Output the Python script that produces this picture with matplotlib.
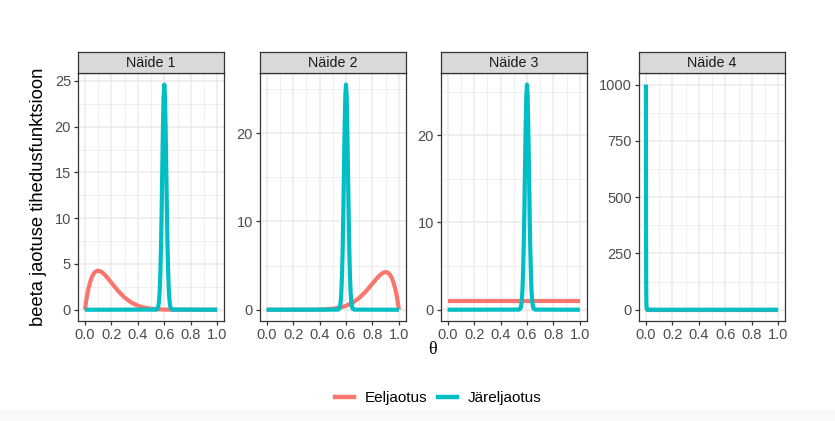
import matplotlib
matplotlib.use("Agg")
import matplotlib.pyplot as plt
from matplotlib.lines import Line2D
from matplotlib.patches import Rectangle

plt.rcParams['font.family'] = ['Liberation Sans', 'DejaVu Sans']

# ---------------- data ----------------
panel_titles = ["Näide 1", "Näide 2", "Näide 3", "Näide 4"]
series_names = ["Eeljaotus", "Järeljaotus"]
series_colors = ["#F8766D", "#00BFC4"]

prior1_x = [0, 0.01, 0.02, 0.03, 0.04, 0.05, 0.06, 0.07, 0.08, 0.09, 0.10, 0.11, 0.12, 0.13,
            0.15, 0.175, 0.2, 0.25, 0.3, 0.35, 0.4, 0.45, 0.5, 0.55, 0.6, 0.7, 1.0]
prior1_y = [0, 1.0, 1.84, 2.51, 3.05, 3.47, 3.78, 4.0, 4.16, 4.24, 4.26, 4.24, 4.18, 4.08,
            3.82, 3.41, 2.95, 2.07, 1.33, 0.80, 0.44, 0.23, 0.11, 0.05, 0.02, 0.002, 0]

prior2_x = [0, 0.3, 0.4, 0.45, 0.5, 0.55, 0.6, 0.65, 0.7, 0.75, 0.8, 0.825, 0.85, 0.87,
            0.88, 0.89, 0.90, 0.91, 0.92, 0.93, 0.94, 0.95, 0.96, 0.97, 0.98, 0.99, 1.0]
prior2_y = [0, 0.002, 0.02, 0.05, 0.11, 0.23, 0.44, 0.80, 1.33, 2.07, 2.95, 3.41, 3.82, 4.08,
            4.18, 4.24, 4.26, 4.24, 4.16, 4.0, 3.78, 3.47, 3.05, 2.51, 1.84, 1.0, 0]

prior3_x = [0, 1.0]
prior3_y = [1, 1]

prior4_x = [0, 1.0]
prior4_y = [1, 1]

post_x = [0.0, 0.54, 0.55, 0.555, 0.56, 0.565, 0.57, 0.575, 0.58, 0.585, 0.59, 0.595, 0.60,
          0.605, 0.61, 0.615, 0.62, 0.625, 0.63, 0.635, 0.64, 0.645, 0.65, 0.66, 1.0]
post1_y = [0, 0.015, 0.14, 0.36, 0.9, 1.9, 3.8, 6.7, 10.7, 15.4, 20.0, 23.3, 24.6,
           23.3, 20.0, 15.4, 10.7, 6.7, 3.8, 1.9, 0.9, 0.36, 0.14, 0.015, 0]
post2_y = [0, 0.015, 0.14, 0.38, 0.92, 2.0, 3.9, 6.9, 11.1, 16.0, 20.7, 24.2, 25.5,
           24.2, 20.7, 16.0, 11.1, 6.9, 3.9, 2.0, 0.92, 0.38, 0.14, 0.015, 0]
post3_y = [0, 0.016, 0.14, 0.38, 0.93, 2.0, 4.0, 7.0, 11.2, 16.2, 20.9, 24.5, 25.8,
           24.5, 20.9, 16.2, 11.2, 7.0, 4.0, 2.0, 0.93, 0.38, 0.14, 0.016, 0]

post4_x = [0, 0.001, 0.002, 0.003, 0.005, 0.01, 1.0]
post4_y = [1000, 368, 135, 50, 6.7, 0.04, 0]

x_ticks = [0.0, 0.2, 0.4, 0.6, 0.8, 1.0]
x_tick_labels = ["0.0", "0.2", "0.4", "0.6", "0.8", "1.0"]
x_minor = [0.1, 0.3, 0.5, 0.7, 0.9]

y_ticks = [[0, 5, 10, 15, 20, 25], [0, 10, 20], [0, 10, 20], [0, 250, 500, 750, 1000]]
y_minor = [[2.5, 7.5, 12.5, 17.5, 22.5], [5, 15, 25], [5, 15, 25], [125, 375, 625, 875]]

priors = [(prior1_x, prior1_y), (prior2_x, prior2_y), (prior3_x, prior3_y), (prior4_x, prior4_y)]
posts = [(post_x, post1_y), (post_x, post2_y), (post_x, post3_y), (post4_x, post4_y)]

# ---------------- layout ----------------
W, H = 835, 421
fig = plt.figure(figsize=(W / 100, H / 100), dpi=100)

# light band at very bottom
fig.patches.append(Rectangle((0, 0), 1, 11 / H, transform=fig.transFigure,
                             facecolor="#F9F9F9", edgecolor="none", zorder=-10))

lefts_px = [78.3, 260.0, 441.0, 639.3]
pw = 145.5
top_px = 73.3
bot_px = 321.0
strip_top = 52.3

border_col = "#333333"
grid_col = "#EBEBEB"
tick_lab_col = "#4D4D4D"

for i in range(4):
    l = lefts_px[i] / W
    b = (H - bot_px) / H
    h = (bot_px - top_px) / H
    ax = fig.add_axes([l, b, pw / W, h])
    px, py = priors[i]
    qx, qy = posts[i]
    ax.plot(px, py, color=series_colors[0], lw=3.0, solid_capstyle="butt", zorder=3)
    ax.plot(qx, qy, color=series_colors[1], lw=3.0, solid_capstyle="butt", zorder=4)
    ymax = max(max(py), max(qy))
    ymin = min(min(py), min(qy))
    rng = ymax - ymin
    ax.set_ylim(ymin - 0.05 * rng, ymax + 0.05 * rng)
    ax.set_xlim(-0.05, 1.05)
    ax.set_xticks(x_ticks)
    ax.set_xticklabels(x_tick_labels)
    ax.set_xticks(x_minor, minor=True)
    ax.set_yticks(y_ticks[i])
    ax.set_yticklabels([str(v) for v in y_ticks[i]])
    ax.set_yticks(y_minor[i], minor=True)
    ax.grid(True, which="major", color=grid_col, lw=1.1, zorder=0)
    ax.grid(True, which="minor", color=grid_col, lw=0.55, zorder=0)
    ax.set_axisbelow(True)
    ax.tick_params(which="major", length=3.2, width=0.9, color=border_col,
                   labelsize=10.5, labelcolor=tick_lab_col, pad=2)
    ax.tick_params(which="minor", length=0)
    for s in ax.spines.values():
        s.set_color(border_col)
        s.set_linewidth(0.9)
    # strip
    sax = fig.add_axes([l, (H - top_px) / H, pw / W, (top_px - strip_top) / H])
    sax.set_facecolor("#D9D9D9")
    sax.set_xticks([])
    sax.set_yticks([])
    for s in sax.spines.values():
        s.set_color(border_col)
        s.set_linewidth(0.9)
    sax.text(0.5, 0.47, panel_titles[i], ha="center", va="center", fontsize=10.3,
             color="#1A1A1A", transform=sax.transAxes)

# axis labels
fig.text(39 / W, (H - 197) / H, "beeta jaotuse tihedusfunktsioon", rotation=90,
         ha="center", va="center", fontsize=13.2, color="black")
fig.text(432 / W, (H - 349) / H, "θ", ha="center", va="center", fontsize=13,
         family=["Liberation Serif", "DejaVu Serif"], color="black")

# legend
handles = [Line2D([0], [0], color=c, lw=3.2) for c in series_colors]
fig.legend(handles, series_names, loc="center", bbox_to_anchor=(438 / W, (H - 398) / H),
           ncol=2, frameon=False, fontsize=11, handlelength=1.25, handletextpad=0.7,
           columnspacing=0.7)

fig.savefig("out.png", dpi=100)
